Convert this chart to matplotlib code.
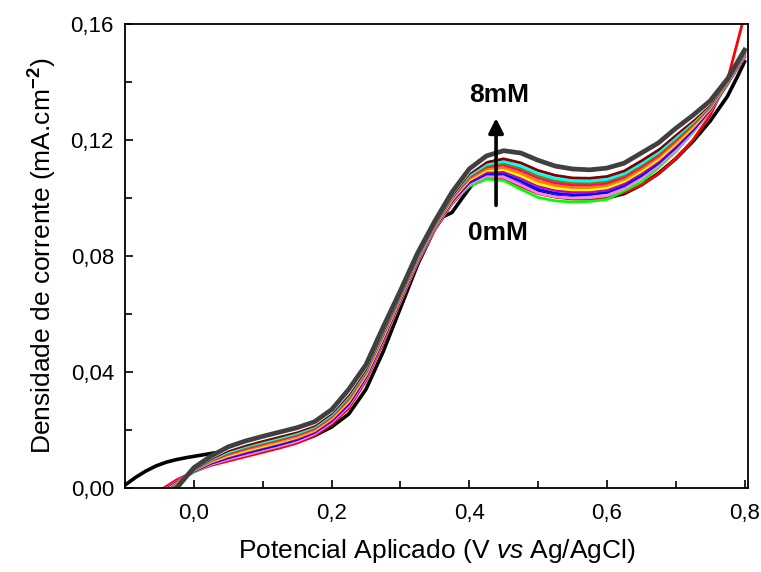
import numpy as np
import matplotlib
matplotlib.use("Agg")
import matplotlib.pyplot as plt

plt.rcParams['font.family'] = ['Liberation Sans', 'DejaVu Sans']
plt.rcParams['mathtext.fontset'] = 'custom'
plt.rcParams['mathtext.rm'] = 'Liberation Sans'
plt.rcParams['mathtext.it'] = 'Liberation Sans:italic'
plt.rcParams['mathtext.bf'] = 'Liberation Sans:bold'

# potential grid (V vs Ag/AgCl) shared by the coloured curves
potential = [-0.05, -0.025, 0.0, 0.025, 0.05, 0.075, 0.1, 0.125, 0.15, 0.175,
             0.2, 0.225, 0.25, 0.275, 0.3, 0.325, 0.35, 0.375, 0.4, 0.425,
             0.45, 0.475, 0.5, 0.525, 0.55, 0.575, 0.6, 0.625, 0.65, 0.675,
             0.7, 0.725, 0.75, 0.775, 0.8]

# current density in 1e-3 mA.cm-2
red = [-1.0, 2.8, 5.6, 7.8, 9.3, 10.8, 12.3, 13.8, 15.5, 18.0, 22.0, 27.5, 37.0, 50.0, 64.0, 77.5, 89.0, 98.0, 104.5, 107.2,
       106.8, 104.0, 101.5, 100.3, 99.6, 99.6, 100.3, 101.8, 104.5, 108.3, 113.5, 120.0, 128.5, 140.5, 163.0]
green = [-2.0, 2.0, 5.5, 8.2, 10.0, 11.5, 13.0, 14.5, 16.3, 18.8, 22.8, 28.5, 38.0, 51.0, 64.5, 78.0, 89.5, 98.5, 104.0, 106.5,
         106.0, 103.0, 100.2, 99.0, 98.6, 98.8, 99.5, 102.5, 105.5, 110.5, 116.0, 122.5, 130.0, 139.0, 150.0]
violet = [-1.8, 2.1, 5.7, 8.2, 9.9, 11.4, 13.0, 14.5, 16.1, 18.6, 22.6, 28.3, 37.7, 50.7, 64.5, 77.9, 89.4, 98.5, 104.7, 107.5,
          107.2, 104.5, 101.7, 100.4, 100.0, 100.1, 100.8, 103.2, 106.7, 111.1, 116.5, 122.8, 130.0, 139.2, 148.4]
blue = [-2.1, 1.9, 5.8, 8.5, 10.4, 12.0, 13.5, 15.0, 16.7, 19.1, 23.1, 28.9, 38.2, 51.2, 64.9, 78.3, 89.7, 98.9, 105.3, 108.3,
        108.3, 105.8, 103.0, 101.6, 101.1, 101.2, 101.9, 104.2, 107.7, 112.0, 117.4, 123.4, 130.4, 139.4, 148.7]
purple = [-2.3, 1.7, 6.0, 8.8, 10.8, 12.4, 14.0, 15.5, 17.1, 19.4, 23.5, 29.5, 38.7, 51.7, 65.2, 78.6, 89.9, 99.2, 105.8, 108.9,
          109.1, 106.8, 104.0, 102.6, 102.0, 102.1, 102.7, 105.0, 108.5, 112.7, 118.1, 124.0, 130.7, 139.6, 148.9]
yellow = [-2.4, 1.5, 6.1, 9.0, 11.1, 12.8, 14.3, 15.8, 17.5, 19.8, 23.9, 29.9, 39.0, 52.0, 65.5, 78.8, 90.1, 99.5, 106.2, 109.5,
          109.8, 107.6, 104.9, 103.4, 102.8, 102.8, 103.5, 105.7, 109.2, 113.3, 118.6, 124.4, 131.0, 139.7, 149.1]
orange = [-2.6, 1.3, 6.2, 9.2, 11.5, 13.2, 14.7, 16.2, 17.8, 20.1, 24.2, 30.4, 39.4, 52.4, 65.8, 79.0, 90.3, 99.8, 106.6, 110.0,
          110.5, 108.5, 105.8, 104.3, 103.6, 103.6, 104.3, 106.4, 109.9, 114.0, 119.2, 124.9, 131.3, 139.9, 149.3]
hotpink = [-2.8, 1.2, 6.3, 9.5, 11.8, 13.6, 15.2, 16.7, 18.3, 20.5, 24.6, 30.9, 39.9, 52.9, 66.1, 79.3, 90.6, 100.1, 107.1, 110.7,
           111.4, 109.5, 106.9, 105.2, 104.5, 104.5, 105.1, 107.2, 110.7, 114.7, 119.9, 125.4, 131.6, 140.0, 149.6]
olive = [-3.0, 1.0, 6.4, 9.7, 12.1, 13.9, 15.5, 17.0, 18.6, 20.8, 24.9, 31.3, 40.2, 53.2, 66.3, 79.5, 90.7, 100.3, 107.5, 111.1,
         112.0, 110.3, 107.6, 106.0, 105.2, 105.1, 105.8, 107.8, 111.3, 115.2, 120.4, 125.8, 131.8, 140.2, 149.7]
cyan = [-3.1, 0.9, 6.5, 9.8, 12.4, 14.3, 15.8, 17.3, 18.9, 21.1, 25.2, 31.7, 40.5, 53.5, 66.6, 79.7, 90.9, 100.6, 107.8, 111.6,
        112.6, 111.0, 108.4, 106.7, 105.9, 105.8, 106.4, 108.4, 111.9, 115.8, 120.9, 126.2, 132.1, 140.3, 149.9]
wine = [-3.3, 0.6, 6.6, 10.1, 12.9, 14.7, 16.3, 17.8, 19.4, 21.5, 25.7, 32.2, 41.0, 54.0, 66.9, 80.1, 91.2, 100.9, 108.4, 112.3,
        113.5, 112.1, 109.5, 107.8, 106.9, 106.8, 107.4, 109.3, 112.8, 116.6, 121.7, 126.7, 132.4, 140.5, 150.2]
white = [-3.6, 0.4, 6.8, 10.5, 13.5, 15.4, 17.0, 18.5, 20.0, 22.1, 26.3, 33.0, 41.7, 54.7, 67.4, 80.5, 91.6, 101.4, 109.1, 113.3,
         114.8, 113.6, 111.1, 109.2, 108.3, 108.1, 108.7, 110.5, 114.0, 117.7, 122.7, 127.5, 132.9, 140.7, 150.6]
gray = [-4.0, 0.0, 7.0, 11.0, 14.2, 16.2, 17.8, 19.3, 20.8, 22.8, 27.0, 34.0, 42.5, 55.5, 68.0, 81.0, 92.0, 102.0, 110.0, 114.5,
        116.3, 115.5, 113.0, 111.0, 110.0, 109.7, 110.3, 112.0, 115.5, 119.0, 124.0, 128.5, 133.5, 141.0, 151.0]

# 0 mM curve has its own points
black_x = [-0.1, -0.085, -0.07, -0.055, -0.04, -0.025, -0.01, 0.01, 0.03, 0.05, 0.075, 0.1, 0.125, 0.15, 0.175,
           0.2, 0.225, 0.25, 0.275, 0.3, 0.325, 0.35, 0.362, 0.375, 0.39, 0.407, 0.425, 0.45, 0.475, 0.5,
           0.525, 0.55, 0.575, 0.6, 0.625, 0.65, 0.675, 0.7, 0.725, 0.75, 0.775, 0.79, 0.8]
black_y = [1.0, 3.6, 5.8, 7.6, 8.9, 9.8, 10.5, 11.3, 12.1, 12.6, 12.8, 13.2, 14.2, 15.8, 18.0,
           21.0, 25.5, 34.0, 47.0, 62.0, 77.0, 89.5, 93.5, 95.0, 100.0, 105.5, 107.5, 107.0, 104.5, 102.0,
           100.5, 100.0, 99.8, 100.0, 101.5, 104.5, 108.5, 113.5, 119.5, 126.5, 135.0, 142.0, 147.0]

series = [
    (red, '#ff0000', 2.0), (green, '#00ff00', 2.0), (violet, '#ff80ff', 2.0),
    (blue, '#0000ff', 2.0), (purple, '#c000c0', 2.0), (yellow, '#ffff00', 2.0),
    (orange, '#ff8000', 2.0), (hotpink, '#ff0080', 2.0), (olive, '#808000', 2.0),
    (cyan, '#00ffff', 2.0), (wine, '#800000', 2.0), (white, '#ffffff', 2.0),
    (gray, '#404040', 3.4),
]

fig = plt.figure(figsize=(7.61, 5.72), dpi=100)
ax = fig.add_axes([0.1643, 0.1469, 0.8186, 0.8112])

ax.plot(black_x, np.array(black_y) / 1000, color='black', lw=2.6)
for vals, col, lw in series:
    ax.plot(potential, np.array(vals) / 1000, color=col, lw=lw)

ax.set_xlim(-0.095, 0.805)
ax.set_ylim(0, 0.16)
ax.set_xticks([0.0, 0.2, 0.4, 0.6, 0.8])
ax.set_xticklabels(['0,0', '0,2', '0,4', '0,6', '0,8'])
ax.set_xticks([-0.1, 0.1, 0.3, 0.5, 0.7], minor=True)
ax.set_yticks([0.0, 0.04, 0.08, 0.12, 0.16])
ax.set_yticklabels(['0,00', '0,04', '0,08', '0,12', '0,16'])
ax.set_yticks([0.02, 0.06, 0.10, 0.14], minor=True)
ax.tick_params(which='both', direction='in', top=False, right=False, width=1.2)
ax.tick_params(which='major', length=6, labelsize=16)
ax.tick_params(which='minor', length=5)
ax.tick_params(axis='x', pad=11)
ax.tick_params(axis='y', pad=8)
for s in ax.spines.values():
    s.set_linewidth(1.3)

ax.set_xlabel(r'Potencial Aplicado (V $\mathit{vs}$ Ag/AgCl)', fontsize=19, labelpad=9)
ax.set_ylabel(r'Densidade de corrente (mA.cm$^{\mathbf{-2}}$)', fontsize=19, labelpad=8)

ax.annotate('', xy=(0.439, 0.1285), xytext=(0.439, 0.0965),
            arrowprops=dict(arrowstyle='-|>', color='black', lw=2.6, mutation_scale=22))
ax.text(0.444, 0.1355, '8mM', fontsize=19, fontweight='bold', ha='center', va='center')
ax.text(0.442, 0.0879, '0mM', fontsize=19, fontweight='bold', ha='center', va='center')

fig.savefig('out.png', dpi=100)
